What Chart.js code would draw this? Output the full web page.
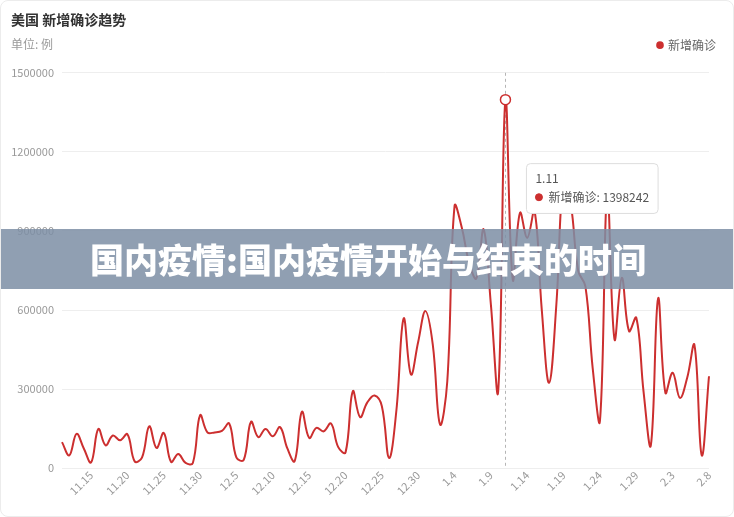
<!DOCTYPE html>
<html>
<head>
<meta charset="utf-8">
<script src="https://cdn.jsdelivr.net/npm/chart.js@4.4.1/dist/chart.umd.min.js"></script>
<style>
  body { margin: 0; background: #fff; }
  .card { position: relative; width: 734px; height: 517px; box-sizing: border-box; border: 1px solid #ececec; border-radius: 8px; overflow: hidden; }
  .banner { position: absolute; left: 0; top: 228px; width: 734px; height: 60px; background: rgba(124, 142, 165, 0.85);
            color: #fff; font-family: "Noto Sans CJK SC", sans-serif; font-weight: 900; font-size: 34px; line-height: 60px; text-align: center; }
</style>
</head>
<body>
<div class="card">
  <canvas id="trend"></canvas>
  <div class="banner">国内疫情:国内疫情开始与结束的时间</div>
</div>
<script>
const dates = [
  '11.11','11.12','11.13','11.14','11.15','11.16','11.17','11.18','11.19','11.20',
  '11.21','11.22','11.23','11.24','11.25','11.26','11.27','11.28','11.29','11.30',
  '12.1','12.2','12.3','12.4','12.5','12.6','12.7','12.8','12.9','12.10',
  '12.11','12.12','12.13','12.14','12.15','12.16','12.17','12.18','12.19','12.20',
  '12.21','12.22','12.23','12.24','12.25','12.26','12.27','12.28','12.29','12.30',
  '12.31','1.1','1.2','1.3','1.4','1.5','1.6','1.7','1.8','1.9',
  '1.10','1.11','1.12','1.13','1.14','1.15','1.16','1.17','1.18','1.19',
  '1.20','1.21','1.22','1.23','1.24','1.25','1.26','1.27','1.28','1.29',
  '1.30','1.31','2.1','2.2','2.3','2.4','2.5','2.6','2.7','2.8'
];

const newCases = [
  99000, 49000, 130000, 75000, 22000, 149000, 87000, 124000, 106000, 129000,
  26000, 40000, 159000, 77000, 134000, 24000, 54000, 20000, 20000, 201000,
  136000, 136000, 142000, 170000, 40000, 32000, 176000, 118000, 149000, 121000,
  156000, 75000, 27000, 214000, 115000, 153000, 140000, 170000, 80000, 60000,
  292000, 194000, 250000, 276000, 235000, 39000, 220000, 568000, 356000, 480000,
  596000, 470000, 166000, 330000, 995000, 912000, 780000, 720000, 906000, 620000,
  292000, 1398242, 716000, 969000, 874000, 976000, 600000, 324000, 620000, 1100000,
  1000000, 750000, 690000, 380000, 180000, 1050000, 489000, 722000, 520000, 571000,
  290000, 87000, 644000, 286000, 362000, 267000, 343000, 467000, 49000, 349000
];

const shownDates = ['11.15','11.20','11.25','11.30','12.5','12.10','12.15','12.20','12.25','12.30',
  '1.4','1.9','1.14','1.19','1.24','1.29','2.3','2.8'];

const yTicks = [0, 300000, 600000, 900000, 1200000, 1500000];
const activeDate = '1.11';

const red = 'rgb(204, 47, 47)';
Chart.defaults.font.family = '"Noto Sans CJK SC", "Noto Sans", sans-serif';

Chart.Tooltip.positioners.besidePoint = function (items) {
  if (!items.length) return false;
  const el = items[0].element;
  return { x: el.x + 25, y: el.y + 64, xAlign: 'left', yAlign: 'top' };
};

const pointerLine = {
  id: 'pointerLine',
  beforeDatasetsDraw(chart) {
    const act = chart.tooltip.getActiveElements();
    if (!act.length) return;
    const x = act[0].element.x;
    const { top, bottom } = chart.chartArea;
    const c = chart.ctx;
    c.save();
    c.strokeStyle = '#b5b5b5';
    c.lineWidth = 1;
    c.setLineDash([3, 3]);
    c.beginPath();
    c.moveTo(Math.round(x) + 0.5, top);
    c.lineTo(Math.round(x) + 0.5, bottom);
    c.stroke();
    c.restore();
  }
};

const ctx = document.getElementById('trend').getContext('2d');
const chart = new Chart(ctx, {
  type: 'line',
  data: {
    labels: dates,
    datasets: [{
      label: '新增确诊',
      data: newCases,
      borderColor: red,
      backgroundColor: red,
      borderWidth: 2,
      tension: 0.4,
      pointRadius: 0,
      pointHoverRadius: 5,
      pointHoverBackgroundColor: '#fff',
      pointHoverBorderColor: red,
      pointHoverBorderWidth: 1.5
    }]
  },
  options: {
    responsive: true,
    maintainAspectRatio: false,
    animation: false,
    events: [],
    layout: { padding: { left: 10, right: 3, top: 0, bottom: 3 } },
    scales: {
      x: {
        grid: { display: false },
        border: { display: false },
        afterFit: (s) => { s.paddingRight = 24; s.paddingLeft = 0; },
        ticks: {
          autoSkip: false,
          minRotation: 45,
          maxRotation: 45,
          padding: 4,
          color: '#999',
          font: { size: 11 },
          callback: function (v) {
            const d = this.getLabelForValue(v);
            return shownDates.includes(d) ? d : '';
          }
        }
      },
      y: {
        min: 0,
        max: 1500000,
        afterBuildTicks: (axis) => { axis.ticks = yTicks.map(v => ({ value: v })); },
        afterFit: (s) => { s.width = 51; },
        grid: { color: '#eeeeee', drawTicks: false },
        border: { display: false },
        ticks: { padding: 8, color: '#999', font: { size: 11 }, callback: (v) => String(v) }
      }
    },
    plugins: {
      title: {
        display: true,
        text: '美国 新增确诊趋势',
        align: 'start',
        color: '#333',
        font: { size: 14, weight: 'bold' },
        padding: { top: 10, bottom: 9 }
      },
      subtitle: {
        display: true,
        text: '单位: 例',
        align: 'start',
        color: '#999',
        font: { size: 12 },
        padding: { top: 0, bottom: -26 }
      },
      legend: {
        position: 'top',
        align: 'end',
        labels: {
          usePointStyle: true,
          pointStyle: 'circle',
          boxWidth: 4,
          boxHeight: 4,
          color: '#666',
          font: { size: 12 },
          padding: 14
        }
      },
      tooltip: {
        position: 'besidePoint',
        xAlign: 'left',
        yAlign: 'top',
        backgroundColor: '#fff',
        borderColor: '#dddddd',
        borderWidth: 1,
        cornerRadius: 4,
        caretSize: 0,
        caretPadding: 0,
        padding: { left: 9, right: 9, top: 8, bottom: 9 },
        titleColor: '#555',
        titleFont: { size: 12, weight: 'normal' },
        titleMarginBottom: 4,
        bodyColor: '#555',
        bodyFont: { size: 12 },
        usePointStyle: true,
        boxWidth: 7,
        boxHeight: 7,
        boxPadding: 4,
        callbacks: {
          label: (item) => item.dataset.label + ': ' + item.raw,
          labelColor: () => ({ borderColor: red, backgroundColor: red }),
          labelPointStyle: () => ({ pointStyle: 'circle', rotation: 0 })
        }
      }
    }
  },
  plugins: [pointerLine]
});

const idx = dates.indexOf(activeDate);
chart.setActiveElements([{ datasetIndex: 0, index: idx }]);
chart.tooltip.setActiveElements([{ datasetIndex: 0, index: idx }], { x: 0, y: 0 });
chart.update();
</script>
</body>
</html>
